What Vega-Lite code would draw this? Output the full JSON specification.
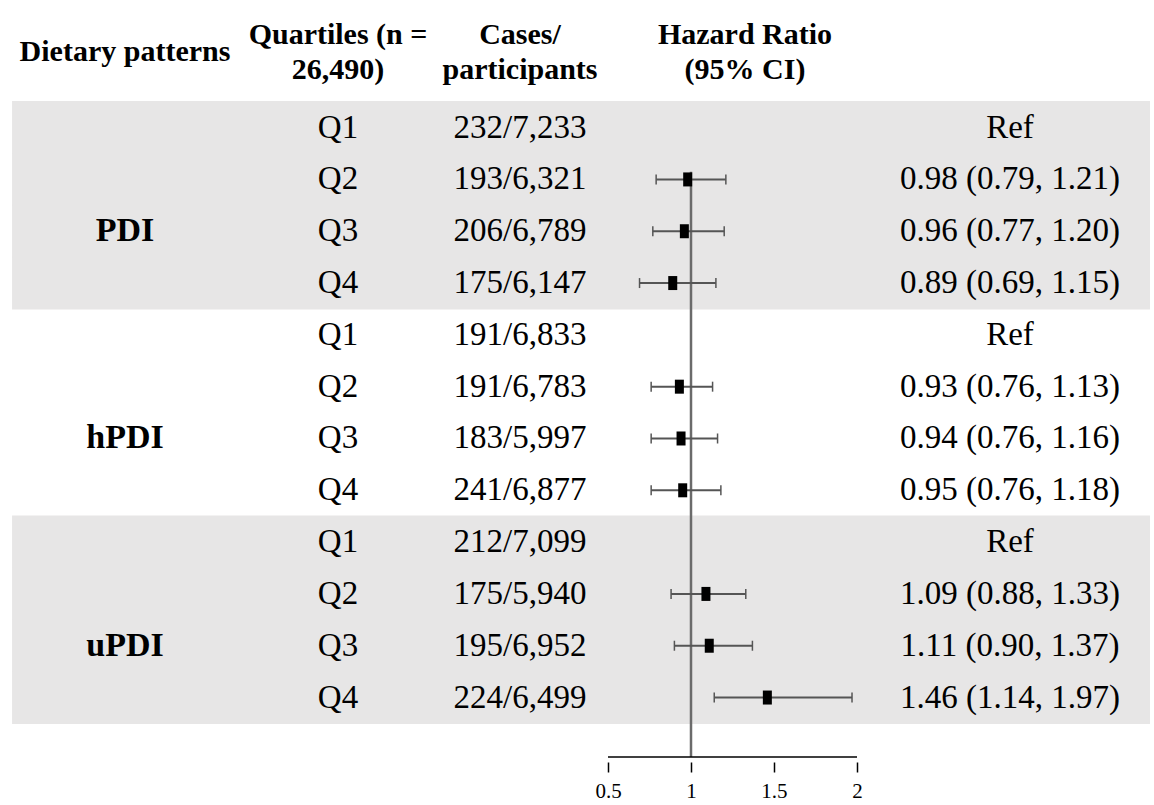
{
  "$schema": "https://vega.github.io/schema/vega-lite/v6.json",
  "width": 1154,
  "height": 762,
  "autosize": "none",
  "padding": {"left": 0, "top": 0, "right": 0, "bottom": 43},
  "background": "white",
  "config": {
    "view": {"stroke": null},
    "font": "Liberation Serif",
    "axisX": {"labelFont": "Liberation Serif", "labelFontSize": 21, "labelColor": "black", "labelPadding": 8, "tickSize": 10, "tickWidth": 1.5, "tickColor": "black", "domain": false, "grid": false}
  },
  "data": {
    "values": [
      {"group": "PDI", "q": "Q1", "cases": "232/7,233", "hr": null, "lo": null, "hi": null, "label": "Ref", "row": 1},
      {"group": "PDI", "q": "Q2", "cases": "193/6,321", "hr": 0.98, "lo": 0.79, "hi": 1.21, "label": "0.98 (0.79, 1.21)", "row": 2},
      {"group": "PDI", "q": "Q3", "cases": "206/6,789", "hr": 0.96, "lo": 0.77, "hi": 1.20, "label": "0.96 (0.77, 1.20)", "row": 3},
      {"group": "PDI", "q": "Q4", "cases": "175/6,147", "hr": 0.89, "lo": 0.69, "hi": 1.15, "label": "0.89 (0.69, 1.15)", "row": 4},
      {"group": "hPDI", "q": "Q1", "cases": "191/6,833", "hr": null, "lo": null, "hi": null, "label": "Ref", "row": 5},
      {"group": "hPDI", "q": "Q2", "cases": "191/6,783", "hr": 0.93, "lo": 0.76, "hi": 1.13, "label": "0.93 (0.76, 1.13)", "row": 6},
      {"group": "hPDI", "q": "Q3", "cases": "183/5,997", "hr": 0.94, "lo": 0.76, "hi": 1.16, "label": "0.94 (0.76, 1.16)", "row": 7},
      {"group": "hPDI", "q": "Q4", "cases": "241/6,877", "hr": 0.95, "lo": 0.76, "hi": 1.18, "label": "0.95 (0.76, 1.18)", "row": 8},
      {"group": "uPDI", "q": "Q1", "cases": "212/7,099", "hr": null, "lo": null, "hi": null, "label": "Ref", "row": 9},
      {"group": "uPDI", "q": "Q2", "cases": "175/5,940", "hr": 1.09, "lo": 0.88, "hi": 1.33, "label": "1.09 (0.88, 1.33)", "row": 10},
      {"group": "uPDI", "q": "Q3", "cases": "195/6,952", "hr": 1.11, "lo": 0.90, "hi": 1.37, "label": "1.11 (0.90, 1.37)", "row": 11},
      {"group": "uPDI", "q": "Q4", "cases": "224/6,499", "hr": 1.46, "lo": 1.14, "hi": 1.97, "label": "1.46 (1.14, 1.97)", "row": 12}
    ]
  },
  "layer": [
    {
      "transform": [{"filter": "datum.group !== 'hPDI'"}],
      "mark": {"type": "bar", "height": 53, "color": "#e7e6e6"},
      "encoding": {
        "x": {"datum": -3.09, "type": "quantitative", "scale": {"domain": [-3.1627, 3.7892], "nice": false, "zero": false},
          "axis": {"values": [0.5, 1, 1.5, 2], "format": "~g", "domain": false, "grid": false, "tickSize": 10, "tickWidth": 1.5, "tickColor": "black", "labelFont": "Liberation Serif", "labelFontSize": 21, "labelColor": "black", "labelPadding": 8, "title": null}},
        "x2": {"datum": 3.765},
        "y": {"field": "row", "type": "quantitative", "scale": {"domain": [-1.3667, 13.1476], "reverse": true, "nice": false, "zero": false}, "axis": null}
      }
    },
    {
      "data": {"values": [{}]},
      "mark": {"type": "rule", "color": "#6b6b6b", "strokeWidth": 2.5},
      "encoding": {
        "x": {"datum": 1, "type": "quantitative"},
        "y": {"datum": 1.85, "type": "quantitative"},
        "y2": {"datum": 13.1476}
      }
    },
    {
      "data": {"values": [{}]},
      "mark": {"type": "rule", "color": "black", "strokeWidth": 1.5},
      "encoding": {
        "x": {"datum": 0.5, "type": "quantitative"},
        "x2": {"datum": 2},
        "y": {"datum": 13.1476, "type": "quantitative"}
      }
    },
    {
      "transform": [{"filter": "isValid(datum.hr)"}],
      "mark": {"type": "rule", "color": "#555555", "strokeWidth": 2},
      "encoding": {
        "x": {"field": "lo", "type": "quantitative", "title": null},
        "x2": {"field": "hi"},
        "y": {"field": "row", "type": "quantitative"}
      }
    },
    {
      "transform": [{"filter": "isValid(datum.hr)"}],
      "mark": {"type": "tick", "orient": "vertical", "color": "#555555", "size": 10, "thickness": 1.5, "opacity": 1},
      "encoding": {
        "x": {"field": "lo", "type": "quantitative", "title": null},
        "y": {"field": "row", "type": "quantitative"}
      }
    },
    {
      "transform": [{"filter": "isValid(datum.hr)"}],
      "mark": {"type": "tick", "orient": "vertical", "color": "#555555", "size": 10, "thickness": 1.5, "opacity": 1},
      "encoding": {
        "x": {"field": "hi", "type": "quantitative", "title": null},
        "y": {"field": "row", "type": "quantitative"}
      }
    },
    {
      "transform": [{"filter": "isValid(datum.hr)"}],
      "mark": {"type": "tick", "orient": "vertical", "color": "black", "size": 14, "thickness": 9, "opacity": 1},
      "encoding": {
        "x": {"field": "hr", "type": "quantitative", "title": null},
        "y": {"field": "row", "type": "quantitative"}
      }
    },
    {
      "mark": {"type": "text", "align": "center", "baseline": "middle", "font": "Liberation Serif", "fontSize": 33, "color": "black"},
      "encoding": {
        "x": {"datum": -1.1265, "type": "quantitative"},
        "y": {"field": "row", "type": "quantitative"},
        "text": {"field": "q"}
      }
    },
    {
      "mark": {"type": "text", "align": "center", "baseline": "middle", "font": "Liberation Serif", "fontSize": 33, "color": "black"},
      "encoding": {
        "x": {"datum": -0.0301, "type": "quantitative"},
        "y": {"field": "row", "type": "quantitative"},
        "text": {"field": "cases"}
      }
    },
    {
      "mark": {"type": "text", "align": "center", "baseline": "middle", "font": "Liberation Serif", "fontSize": 33, "color": "black"},
      "encoding": {
        "x": {"datum": 2.9217, "type": "quantitative"},
        "y": {"field": "row", "type": "quantitative"},
        "text": {"field": "label"}
      }
    },
    {
      "transform": [{"filter": "datum.q === 'Q3'"}],
      "mark": {"type": "text", "align": "center", "baseline": "middle", "font": "Liberation Serif", "fontSize": 34, "fontWeight": "bold", "color": "black"},
      "encoding": {
        "x": {"datum": -2.4096, "type": "quantitative"},
        "y": {"field": "row", "type": "quantitative"},
        "text": {"field": "group"}
      }
    },
    {
      "data": {"values": [{"header": "Dietary patterns"}]},
      "mark": {"type": "text", "align": "center", "baseline": "middle", "font": "Liberation Serif", "fontSize": 30, "fontWeight": "bold", "color": "black"},
      "encoding": {
        "x": {"datum": -2.4096, "type": "quantitative"},
        "y": {"datum": -0.452, "type": "quantitative"},
        "text": {"field": "header"}
      }
    },
    {
      "data": {"values": [{"header": ["Quartiles (n =", "26,490)"]}]},
      "mark": {"type": "text", "align": "center", "baseline": "middle", "font": "Liberation Serif", "fontSize": 30, "fontWeight": "bold", "color": "black", "lineHeight": 35},
      "encoding": {
        "x": {"datum": -1.1265, "type": "quantitative"},
        "y": {"datum": -0.795, "type": "quantitative"},
        "text": {"field": "header"}
      }
    },
    {
      "data": {"values": [{"header": ["Cases/", "participants"]}]},
      "mark": {"type": "text", "align": "center", "baseline": "middle", "font": "Liberation Serif", "fontSize": 30, "fontWeight": "bold", "color": "black", "lineHeight": 35},
      "encoding": {
        "x": {"datum": -0.0301, "type": "quantitative"},
        "y": {"datum": -0.795, "type": "quantitative"},
        "text": {"field": "header"}
      }
    },
    {
      "data": {"values": [{"header": ["Hazard Ratio", "(95% CI)"]}]},
      "mark": {"type": "text", "align": "center", "baseline": "middle", "font": "Liberation Serif", "fontSize": 30, "fontWeight": "bold", "color": "black", "lineHeight": 35},
      "encoding": {
        "x": {"datum": 1.3253, "type": "quantitative"},
        "y": {"datum": -0.795, "type": "quantitative"},
        "text": {"field": "header"}
      }
    }
  ]
}
